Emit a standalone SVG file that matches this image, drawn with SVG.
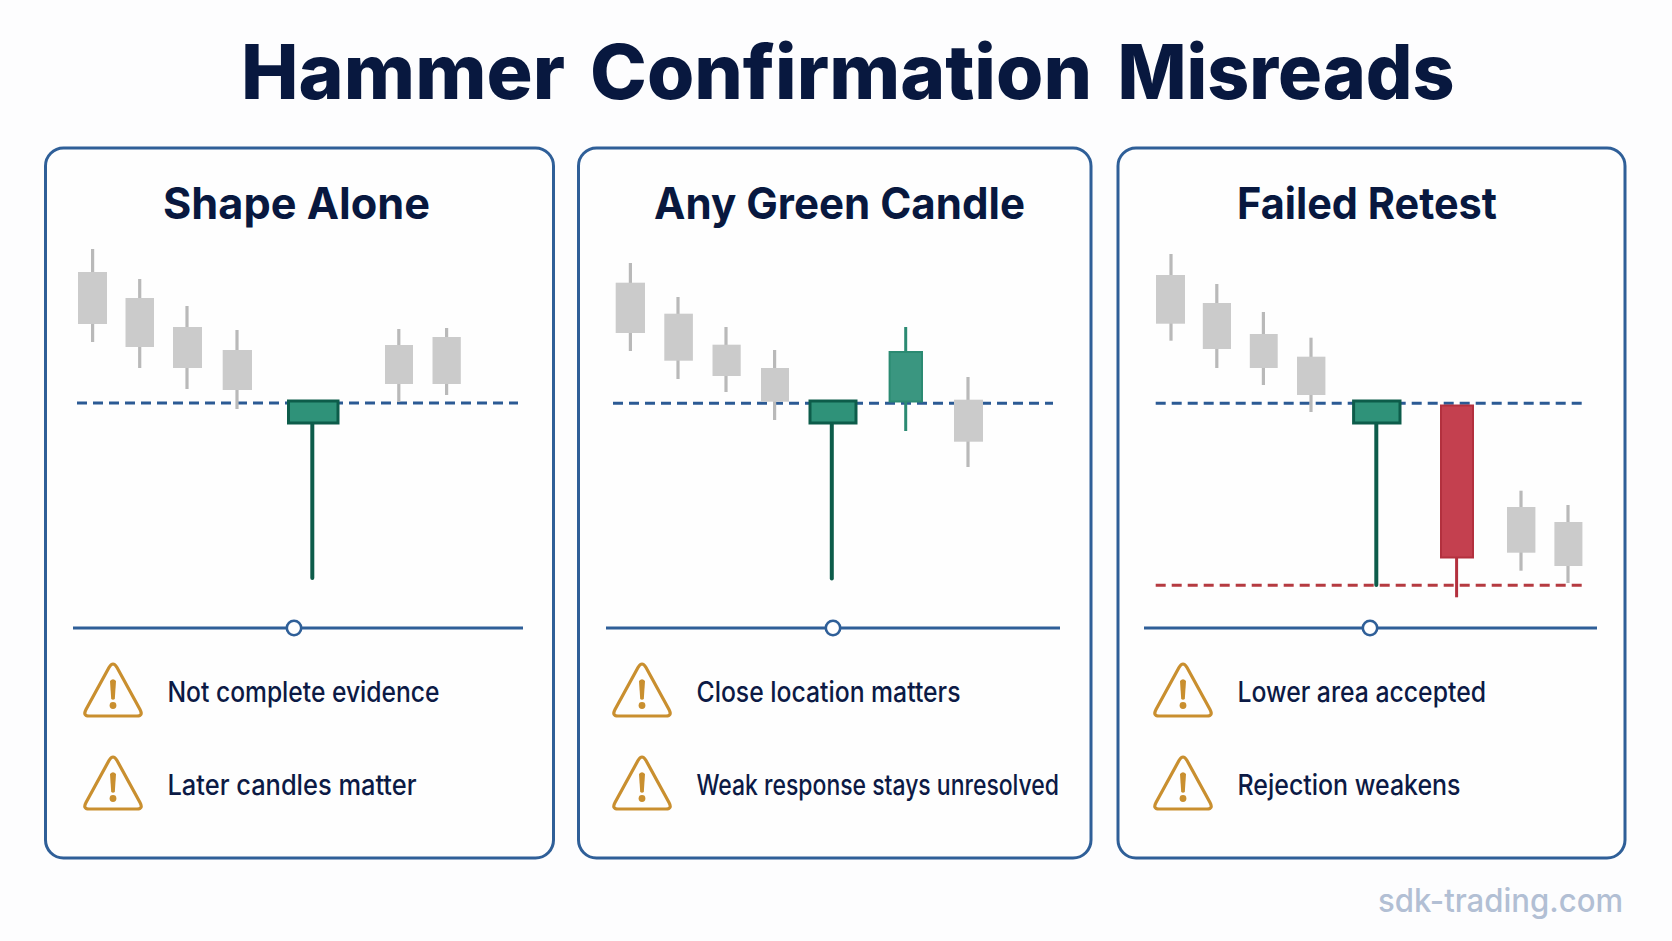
<svg xmlns="http://www.w3.org/2000/svg" width="1672" height="941" viewBox="0 0 1672 941">
<style>
.card{fill:#fefefe;stroke:#2f5f98;stroke-width:3}
.title{font:800 76px Inter,"Liberation Sans",sans-serif;fill:#08183f}
.head{font:700 44px Inter,"Liberation Sans",sans-serif;fill:#08183f}
.item{font:500 28px Inter,"Liberation Sans",sans-serif;fill:#0c1a45}
.mark{font:500 32px Inter,"Liberation Sans",sans-serif;fill:#b2bfd4}
.gb{fill:#cbcbcb}
.gw{stroke:#b9b9b9;stroke-width:3.2;fill:none}
.hb{fill:#2f9279;stroke:#0d5c4a;stroke-width:3}
.hw{stroke:#0d5c4a;stroke-width:4;stroke-linecap:round;fill:none}
.gnb{fill:#3a9680;stroke:#2b8a72;stroke-width:2}
.gnw{stroke:#2b8a72;stroke-width:3;fill:none}
.rb{fill:#c4404f;stroke:#b3303e;stroke-width:2}
.rw{stroke:#b3303e;stroke-width:3;fill:none}
.dash{stroke:#2b5a94;stroke-width:3;stroke-dasharray:10 6;fill:none}
.rdash{stroke:#b53a40;stroke-width:3;stroke-dasharray:10 6;fill:none}
.rail{stroke:#2f5f98;stroke-width:3;fill:none}
.dot{fill:#fff;stroke:#2f5f98;stroke-width:2.6}
.tri{fill:none;stroke:#c98f2f;stroke-width:3.2;stroke-linejoin:round}
.ex{fill:#c98f2f}
</style>
<defs>
<g id="warn">
<path class="tri" d="M-4 5.500 Q0 -1.500 4 5.500 L27 47.500 Q30.500 54 24 54 H-24 Q-30.500 54 -27 47.500 Z"/>
<path class="ex" d="M-3 19 Q0 15.500 3 19 L1.800 37 Q0 38.500 -1.800 37 Z"/>
<circle class="ex" cx="0" cy="43.500" r="3.400"/>
</g>
</defs>
<rect width="1672" height="941" fill="#fdfdfe"/>
<text class="title" y="99"><tspan x="241" textLength="324" lengthAdjust="spacingAndGlyphs">Hammer</tspan> <tspan x="590" textLength="502" lengthAdjust="spacingAndGlyphs">Confirmation</tspan> <tspan x="1117.500" textLength="337" lengthAdjust="spacingAndGlyphs">Misreads</tspan></text>

<g id="panel-shape-alone">
<rect class="card" x="45.500" y="148" width="508" height="710" rx="18"/>
<text class="head" x="163" y="219" textLength="267" lengthAdjust="spacingAndGlyphs">Shape Alone</text>
<line class="dash" x1="77" y1="403" x2="518" y2="403"/>
<line class="gw" x1="92.600" y1="249" x2="92.600" y2="342"/><rect class="gb" x="78" y="272" width="29" height="52"/>
<line class="gw" x1="139.700" y1="279" x2="139.700" y2="368"/><rect class="gb" x="125.500" y="298" width="28.500" height="49"/>
<line class="gw" x1="187" y1="306" x2="187" y2="389"/><rect class="gb" x="173" y="327" width="29" height="41"/>
<line class="gw" x1="237" y1="330" x2="237" y2="409"/><rect class="gb" x="222.700" y="350" width="29.300" height="40"/>
<line class="hw" x1="312.300" y1="423" x2="312.300" y2="578"/><rect class="hb" x="288.500" y="401" width="49.500" height="22"/>
<line class="gw" x1="398.800" y1="329" x2="398.800" y2="402"/><rect class="gb" x="385" y="345" width="28" height="39"/>
<line class="gw" x1="446.600" y1="328" x2="446.600" y2="395"/><rect class="gb" x="432.500" y="337" width="28.300" height="47"/>
<line class="rail" x1="73" y1="628" x2="523" y2="628"/><circle class="dot" cx="294" cy="628" r="7.200"/>
<use href="#warn" x="113" y="662"/>
<text class="item" x="167.500" y="702" textLength="272" lengthAdjust="spacingAndGlyphs">Not complete evidence</text>
<use href="#warn" x="113" y="755"/>
<text class="item" x="167.500" y="795" textLength="249" lengthAdjust="spacingAndGlyphs">Later candles matter</text>
</g>

<g id="panel-any-green-candle">
<rect class="card" x="578.500" y="148" width="512.500" height="710" rx="18"/>
<text class="head" x="654" y="219" textLength="371" lengthAdjust="spacingAndGlyphs">Any Green Candle</text>
<line class="dash" x1="613" y1="403.300" x2="1053" y2="403.300"/>
<line class="gw" x1="630.400" y1="263" x2="630.400" y2="351"/><rect class="gb" x="615.700" y="282.700" width="29.300" height="50.300"/>
<line class="gw" x1="678" y1="297" x2="678" y2="379"/><rect class="gb" x="664.300" y="313.700" width="28.600" height="47"/>
<line class="gw" x1="726" y1="327" x2="726" y2="392"/><rect class="gb" x="712.500" y="344.700" width="28.200" height="31.300"/>
<line class="gw" x1="774.600" y1="350" x2="774.600" y2="420"/><rect class="gb" x="761" y="368" width="28" height="33.700"/>
<line class="hw" x1="831.800" y1="423" x2="831.800" y2="578.500"/><rect class="hb" x="810" y="401" width="46" height="22"/>
<line class="gnw" x1="905.700" y1="327" x2="905.700" y2="431"/><rect class="gnb" x="889.600" y="352" width="32.400" height="49.500"/>
<line class="gw" x1="968" y1="377" x2="968" y2="467"/><rect class="gb" x="954" y="399.700" width="29" height="42"/>
<line class="rail" x1="606" y1="628" x2="1060" y2="628"/><circle class="dot" cx="833" cy="628" r="7.200"/>
<use href="#warn" x="642" y="662"/>
<text class="item" x="696.500" y="702" textLength="264" lengthAdjust="spacingAndGlyphs">Close location matters</text>
<use href="#warn" x="642" y="755"/>
<text class="item" x="696.500" y="795" textLength="362.500" lengthAdjust="spacingAndGlyphs">Weak response stays unresolved</text>
</g>

<g id="panel-failed-retest">
<rect class="card" x="1118" y="148" width="507" height="710" rx="18"/>
<text class="head" x="1237" y="219" textLength="260" lengthAdjust="spacingAndGlyphs">Failed Retest</text>
<line class="dash" x1="1155.700" y1="403.300" x2="1583" y2="403.300"/>
<line class="rdash" x1="1155.700" y1="585.300" x2="1583" y2="585.300"/>
<line class="gw" x1="1171" y1="254" x2="1171" y2="340.700"/><rect class="gb" x="1156" y="275" width="29" height="48.700"/>
<line class="gw" x1="1216.800" y1="284" x2="1216.800" y2="368"/><rect class="gb" x="1202.800" y="303" width="28.200" height="46"/>
<line class="gw" x1="1263.400" y1="312" x2="1263.400" y2="385"/><rect class="gb" x="1249.800" y="334" width="27.900" height="34"/>
<line class="gw" x1="1311" y1="337.700" x2="1311" y2="412"/><rect class="gb" x="1297" y="356.700" width="28.400" height="38.300"/>
<line class="hw" x1="1376.300" y1="423" x2="1376.300" y2="585"/><rect class="hb" x="1353.600" y="401" width="46.400" height="22"/>
<line class="rw" x1="1456.600" y1="558" x2="1456.600" y2="597.300"/><rect class="rb" x="1441" y="405.500" width="32" height="152"/>
<line class="gw" x1="1521" y1="490.700" x2="1521" y2="570.700"/><rect class="gb" x="1507" y="507" width="28.400" height="45.700"/>
<line class="gw" x1="1568" y1="505" x2="1568" y2="583"/><rect class="gb" x="1554.400" y="522" width="28" height="44"/>
<line class="rail" x1="1144" y1="628" x2="1597" y2="628"/><circle class="dot" cx="1370" cy="628" r="7.200"/>
<use href="#warn" x="1183" y="662"/>
<text class="item" x="1237.500" y="702" textLength="248.500" lengthAdjust="spacingAndGlyphs">Lower area accepted</text>
<use href="#warn" x="1183" y="755"/>
<text class="item" x="1237.500" y="795" textLength="223" lengthAdjust="spacingAndGlyphs">Rejection weakens</text>
</g>
<text class="mark" x="1378" y="912" textLength="245" lengthAdjust="spacingAndGlyphs">sdk-trading.com</text>
</svg>
